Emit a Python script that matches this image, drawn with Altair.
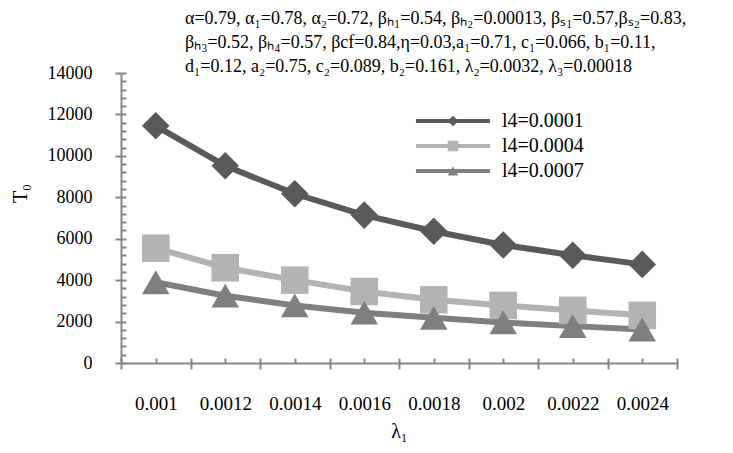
import altair as alt
import pandas as pd

# ---- data ----
lam1 = [0.001, 0.0012, 0.0014, 0.0016, 0.0018, 0.002, 0.0022, 0.0024]
series_names = ["l4=0.0001", "l4=0.0004", "l4=0.0007"]
t_l4_0001 = [11450, 9520, 8170, 7140, 6360, 5700, 5200, 4760]
t_l4_0004 = [5540, 4600, 4000, 3450, 3050, 2780, 2540, 2300]
t_l4_0007 = [3900, 3250, 2780, 2430, 2180, 1960, 1780, 1620]

y_major = [0, 2000, 4000, 6000, 8000, 10000, 12000, 14000]
y_minor = list(range(0, 14001, 400))
x_bounds = [0.0009, 0.0011, 0.0013, 0.0015, 0.0017, 0.0019, 0.0021, 0.0023, 0.0025]

title_lines = [
    "α=0.79, α₁=0.78, α₂=0.72, βₕ₁=0.54, βₕ₂=0.00013,  βₛ₁=0.57,βₛ₂=0.83,",
    "βₕ₃=0.52, βₕ₄=0.57, βcf=0.84,η=0.03,a₁=0.71, c₁=0.066,  b₁=0.11,",
    " d₁=0.12, a₂=0.75, c₂=0.089, b₂=0.161,  λ₂=0.0032, λ₃=0.00018",
]

colors = ["#5a5a5a", "#b3b3b3", "#7f7f7f"]
shapes = ["diamond", "square", "triangle-up"]
marker_names = [n + " " for n in series_names]  # separate key for the marker legend

rows = []
for name, mname, vals in zip(series_names, marker_names, [t_l4_0001, t_l4_0004, t_l4_0007]):
    for x, v in zip(lam1, vals):
        rows.append({"lam": x, "T": v, "series": name, "series2": mname})
df = pd.DataFrame(rows)

W, H = 556, 290
FONT = "Liberation Serif"
AX = "#868686"

xs = alt.Scale(domain=[0.0009, 0.0025], nice=False, zero=False)
ys = alt.Scale(domain=[0, 14000], nice=False, zero=True)

base = alt.Chart(df)

LEG_X, LEG_Y = 290, 38
legend_common = dict(
    orient="none", legendX=LEG_X, legendY=LEG_Y, title=None,
    symbolSize=112, symbolOffset=32, labelOffset=39,
    labelFont=FONT, labelFontSize=20, labelColor="black",
    rowPadding=5,
)

lines = base.mark_line(strokeWidth=6).encode(
    x=alt.X("lam:Q", scale=xs, axis=alt.Axis(
        orient="bottom", values=x_bounds, labels=False, title=None,
        tickSize=6, tickWidth=2, tickColor=AX, domainColor=AX, domainWidth=2, grid=False)),
    y=alt.Y("T:Q", scale=ys, axis=alt.Axis(
        orient="left", values=y_major, format="d", title="T₀", titleFont=FONT, titleFontSize=20,
        titleFontWeight="normal", titleColor="black", titleX=-101, titleY=120,
        titleBaseline="middle", titleAlign="center",
        labelFont=FONT, labelFontSize=18, labelColor="black", labelPadding=23,
        tickSize=6, tickWidth=2, tickColor=AX, domainColor=AX, domainWidth=2, grid=False)),
    color=alt.Color("series:N", scale=alt.Scale(domain=series_names, range=colors),
                    legend=alt.Legend(symbolType="M-7,0L7,0", symbolStrokeWidth=4, **legend_common)),
)

points = base.mark_point(filled=True, opacity=1, size=760, strokeWidth=0).encode(
    x=alt.X("lam:Q", scale=xs, axis=alt.Axis(
        orient="bottom", values=lam1, format="~g", ticks=False, domain=False,
        labelFont=FONT, labelFontSize=19, labelColor="black", labelPadding=31,
        title="λ₁", titleFont=FONT, titleFontSize=20, titleFontWeight="normal",
        titleColor="black", titlePadding=8, grid=False)),
    y=alt.Y("T:Q", scale=ys, axis=None),
    fill=alt.Fill("series2:N", scale=alt.Scale(domain=marker_names, range=colors),
                  legend=alt.Legend(labelOpacity=0, symbolStrokeWidth=0, **legend_common)),
    shape=alt.Shape("series2:N", scale=alt.Scale(domain=marker_names, range=shapes)),
)

inner = base.mark_point(opacity=0).encode(
    x=alt.X("lam:Q", scale=xs, axis=alt.Axis(
        orient="top", offset=-H, values=x_bounds + lam1, labels=False, title=None,
        domain=False, tickSize=5, tickWidth=2, tickColor=AX, grid=False)),
    y=alt.Y("T:Q", scale=ys, axis=alt.Axis(
        orient="right", offset=-W, values=y_minor, labels=False, title=None,
        domain=False, tickSize=5, tickWidth=2, tickColor=AX, grid=False)),
)

chart = alt.layer(lines, points, inner).resolve_axis(
    x="independent", y="independent"
).properties(
    width=W, height=H,
    padding={"left": 2, "top": 2, "right": 5, "bottom": 2},
    title=alt.TitleParams(
        text=title_lines, anchor="start", frame="group", dx=64, offset=-12,
        font=FONT, fontSize=18, fontWeight="normal", color="black", lineHeight=24,
    ),
).configure_view(stroke=None)

chart.save("out.html", embed_options={"renderer": "svg", "actions": False})
